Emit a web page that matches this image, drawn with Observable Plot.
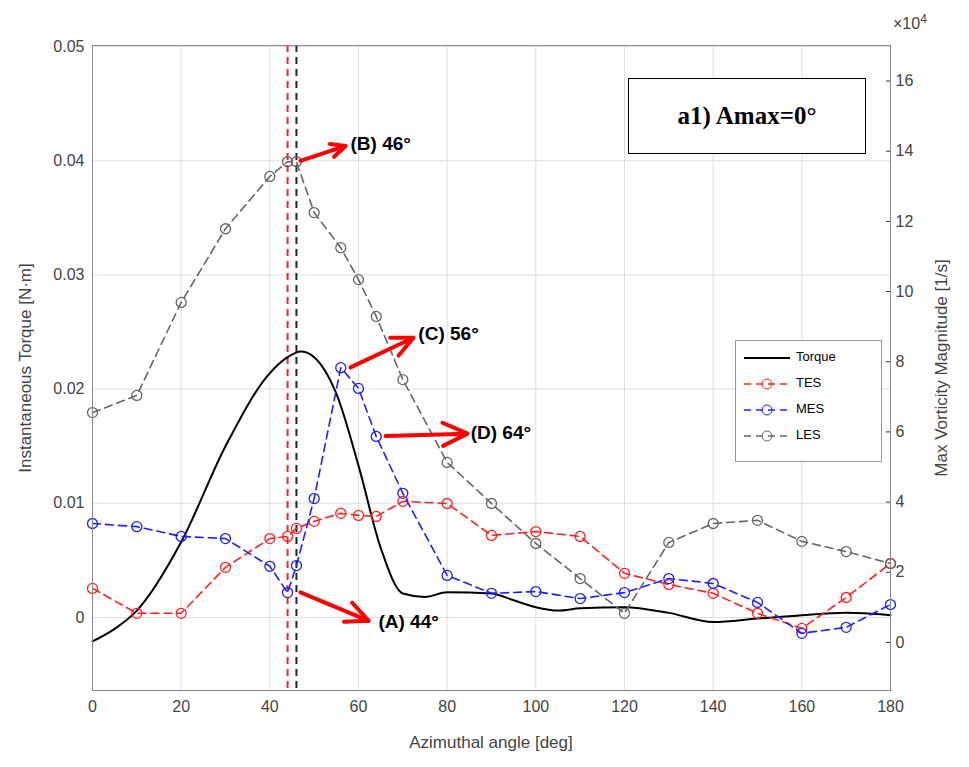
<!DOCTYPE html>
<html><head><meta charset="utf-8">
<script src="https://cdn.jsdelivr.net/npm/d3@7"></script>
<script src="https://cdn.jsdelivr.net/npm/@observablehq/plot@0.6"></script>
<style>
body{margin:0;background:#fff;font-family:"Liberation Sans",Arial,sans-serif;}
#wrap{position:relative;width:969px;height:767px;}
.box{position:absolute;background:#fff;border:1px solid #000;}
.lab{position:absolute;font-size:17px;color:#444;white-space:nowrap;}
</style></head><body><div id="wrap"></div>
<script>
const angles=[0,10,20,30,40,44,46,50,56,60,64,70,80,90,100,110,120,130,140,150,160,170,180];
const tes=[1.54,0.83,0.83,2.14,2.96,3.02,3.25,3.45,3.68,3.62,3.59,4.02,3.96,3.05,3.16,3.02,1.97,1.65,1.40,0.83,0.40,1.28,2.25];
const mes=[3.39,3.30,3.02,2.96,2.17,1.42,2.19,4.10,7.83,7.24,5.87,4.25,1.91,1.40,1.45,1.25,1.42,1.82,1.68,1.14,0.26,0.43,1.08];
const les=[6.55,7.04,9.69,11.79,13.28,13.70,13.70,12.25,11.25,10.34,9.29,7.49,5.13,3.96,2.82,1.82,0.83,2.85,3.39,3.48,2.88,2.59,2.25];
const torqueAngles=[0,5,10,20,30,40,44,47,50,55,60,65,70,75,80,90,95,100,105,110,120,130,140,150,160,170,180];
const torque=[-0.0021,-0.0010,0.0006,0.0066,0.0150,0.0214,0.0228,0.0233,0.0228,0.0196,0.0133,0.0061,0.0021,0.0018,0.0022,0.0021,0.0015,0.0009,0.0006,0.0008,0.0009,0.0004,-0.0004,-0.0001,0.0002,0.0004,0.0002];
const rightTicks=[0,2,4,6,8,10,12,14,16];
const vLines=[{a:44,c:"#ff2020"},{a:46,c:"#222"}];
const arrows=[
 {x1:46.9,y1:0.0022,x2:62.3,y2:-0.0003,label:"(A) 44°",tx:64.5,ty:-0.0004},
 {x1:46.9,y1:0.0400,x2:57.1,y2:0.0413,label:"(B) 46°",tx:58.2,ty:0.0415},
 {x1:58.2,y1:0.0219,x2:72.4,y2:0.0245,label:"(C) 56°",tx:73.5,ty:0.0248},
 {x1:66.1,y1:0.0159,x2:84.6,y2:0.0161,label:"(D) 64°",tx:85.3,ty:0.0162}];
const toL=v=>(35.1*v-25)/11420;
const mk=(arr,name)=>angles.map((a,i)=>({a,v:toL(arr[i]),s:name}));
const series=[["TES",tes,"#ff2020"],["MES",mes,"#2020ff"],["LES",les,"#666"]];
const tData=torqueAngles.map((a,i)=>({a,v:torque[i]}));
const marks=[
 Plot.gridX({ticks:d3.range(0,181,20),stroke:"#ddd",strokeOpacity:1}),
 Plot.gridY({ticks:[0,0.01,0.02,0.03,0.04,0.05],stroke:"#ddd",strokeOpacity:1}),
 Plot.ruleX(vLines,{x:"a",stroke:"c",strokeWidth:2,strokeDasharray:"7,5"}),
 Plot.line(tData,{x:"a",y:"v",curve:"monotone-x",stroke:"#000",strokeWidth:2}),
];
for(const [n,arr,c] of series){
 const d=mk(arr,n);
 marks.push(Plot.line(d,{x:"a",y:"v",stroke:c,strokeWidth:1.6,strokeDasharray:"8,5"}));
 marks.push(Plot.dot(d,{x:"a",y:"v",r:5,stroke:c,fill:"none",strokeWidth:1.3}));
}
marks.push(
 Plot.arrow(arrows,{x1:"x1",y1:"y1",x2:"x2",y2:"y2",stroke:"#ff0000",strokeWidth:4,headLength:18,headAngle:50}),
 Plot.text(arrows,{x:"tx",y:"ty",text:"label",textAnchor:"start",fontSize:19,fontWeight:"bold",fill:"#000"}),
 Plot.axisX({ticks:d3.range(0,181,20),tickSize:0,tickPadding:10,fontSize:16,fill:"#444",label:null}),
 Plot.axisY({anchor:"left",ticks:[0,0.01,0.02,0.03,0.04,0.05],tickFormat:d=>d===0?"0":d3.format(".2f")(d),tickSize:0,tickPadding:8,fontSize:16,fill:"#444",label:null}),
 Plot.axisY({anchor:"right",ticks:rightTicks.map(toL),tickFormat:d=>String(Math.round((d*11420+25)/35.1)),tickSize:-5,tickPadding:10,fontSize:16,fill:"#444",label:null}),
 Plot.frame({stroke:"#888"})
);
const chart=Plot.plot({width:969,height:767,marginLeft:92,marginRight:79,marginTop:45,marginBottom:77,
 style:{fontFamily:"Liberation Sans, Arial, sans-serif",fontSize:"16px",color:"#333"},
 x:{domain:[0,180]},y:{domain:[-0.0064,0.0501]},marks});
const wrap=document.getElementById("wrap");
wrap.appendChild(chart);
chart.style.position="absolute";chart.style.left="0";chart.style.top="0";
function lab(t,css){const d=document.createElement("div");d.className="lab";d.innerHTML=t;d.style.cssText+=css;wrap.appendChild(d);}
lab("Azimuthal angle [deg]","left:491px;top:733px;transform:translateX(-50%);");
lab("Instantaneous Torque [N·m]","left:26px;top:368px;transform:translate(-50%,-50%) rotate(-90deg);");
lab("Max Vorticity Magnitude [1/s]","left:942px;top:368px;transform:translate(-50%,-50%) rotate(-90deg);");
lab("×10<sup style='font-size:12px'>4</sup>","left:893px;top:12px;font-size:16px;");
const ann=document.createElement("div");ann.className="box";
ann.style.cssText+="left:628px;top:78px;width:236px;height:74px;display:flex;align-items:center;justify-content:center;font-family:'Liberation Serif',serif;font-weight:bold;font-size:25px;";
ann.textContent="a1) Amax=0°";wrap.appendChild(ann);
const leg=document.createElement("div");leg.className="box";
leg.style.cssText+="left:735px;top:340px;width:145px;height:120px;border-color:#999;font-size:13px;";
const items=[["Torque","#000",false],["TES","#ff2020",true],["MES","#2020ff",true],["LES","#666",true]];
leg.innerHTML=items.map(([n,c,m],i)=>`<svg style="position:absolute;left:6px;top:${10+i*26}px" width="50" height="14"><line x1="2" x2="48" y1="7" y2="7" stroke="${c}" stroke-width="${m?1.5:2}" ${m?'stroke-dasharray="7,5"':''}/>${m?`<circle cx="25" cy="7" r="5" fill="none" stroke="${c}"/>`:''}</svg><span style="position:absolute;left:60px;top:${8+i*26}px">${n}</span>`).join("");
wrap.appendChild(leg);
</script></body></html>
